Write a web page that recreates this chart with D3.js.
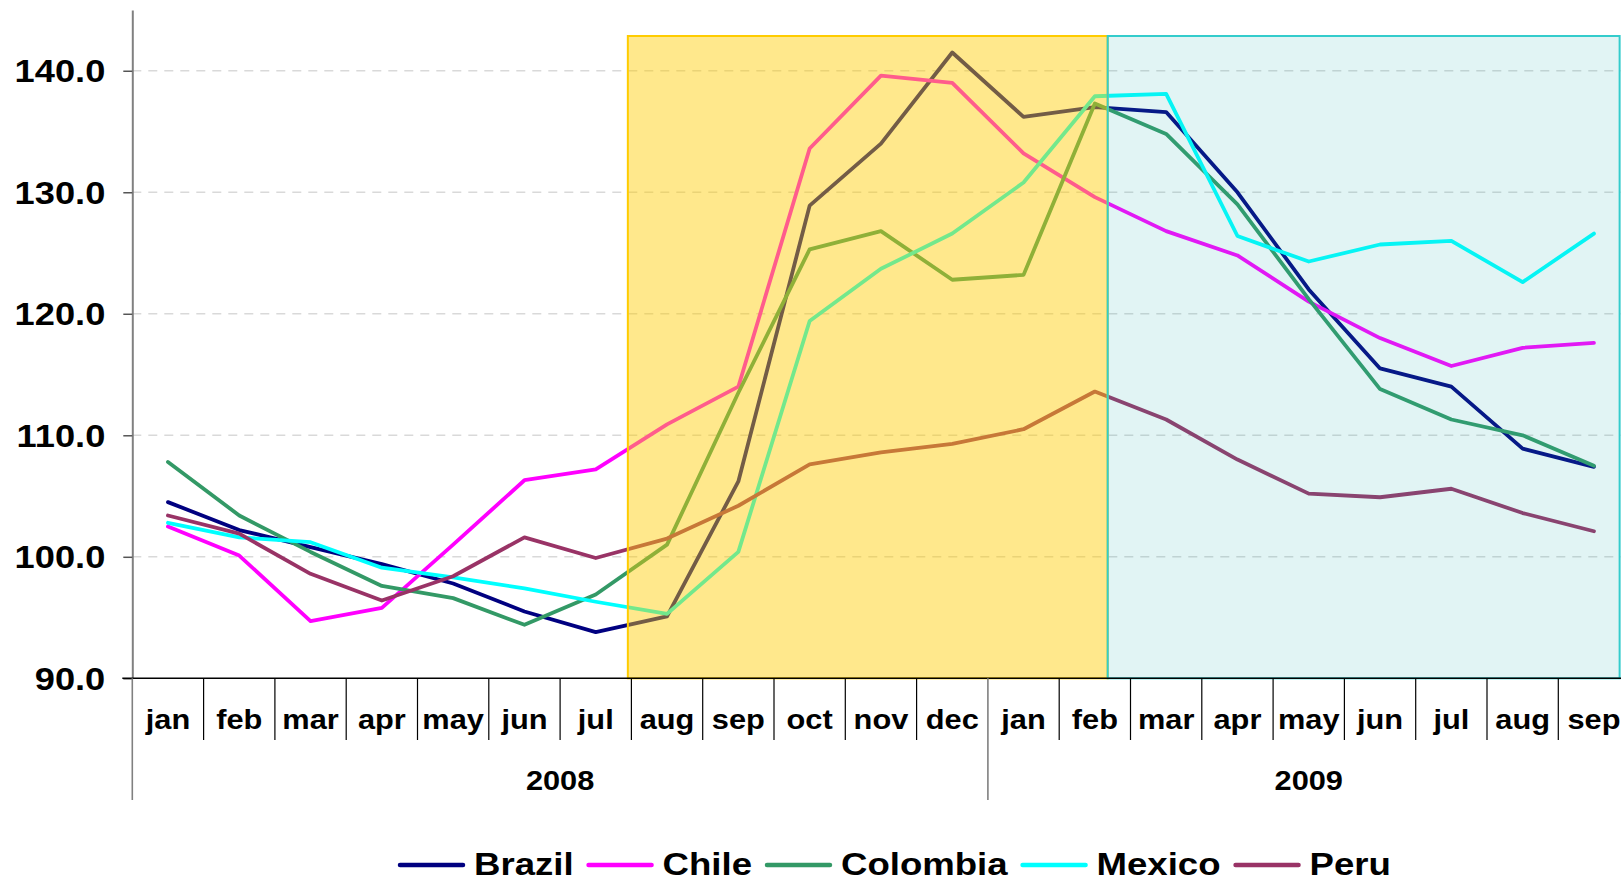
<!DOCTYPE html>
<html>
<head>
<meta charset="utf-8">
<script src="https://cdn.jsdelivr.net/npm/d3@7"></script>
<style>
  html, body { margin: 0; padding: 0; background: #ffffff; }
  svg { display: block; }
  text { font-family: "Liberation Sans", Arial, sans-serif; font-weight: bold; fill: #000; }
</style>
</head>
<body>
<svg id="chart" width="1621" height="882"></svg>
<script>
// ---------- data ----------
const months = ["jan","feb","mar","apr","may","jun","jul","aug","sep","oct","nov","dec",
                "jan","feb","mar","apr","may","jun","jul","aug","sep"];
const years = ["2008", "2009"];
const yearStartIndex = [0, 12];
const yearEndIndex = [12, 21];
const yTicks = [90, 100, 110, 120, 130, 140];
const seriesNames = ["Brazil", "Chile", "Colombia", "Mexico", "Peru"];
const brazil   = [104.5, 102.2, 100.8, 99.4, 97.8, 95.5, 93.8, 95.1, 106.2, 128.9, 134.0, 141.5, 136.2, 137.0, 136.6, 130.0, 122.0, 115.5, 114.0, 108.9, 107.4];
const chile    = [102.5, 100.1, 94.7, 95.8, 101.0, 106.3, 107.2, 110.9, 114.0, 133.6, 139.6, 139.0, 133.2, 129.6, 126.8, 124.8, 121.0, 118.0, 115.7, 117.2, 117.6];
const colombia = [107.8, 103.4, 100.4, 97.6, 96.6, 94.4, 96.9, 101.0, 113.5, 125.3, 126.8, 122.8, 123.2, 137.3, 134.8, 129.0, 121.2, 113.8, 111.3, 110.0, 107.5];
const mexico   = [102.8, 101.6, 101.2, 99.1, 98.3, 97.4, 96.3, 95.3, 100.4, 119.4, 123.7, 126.6, 130.8, 137.9, 138.1, 126.4, 124.3, 125.7, 126.0, 122.6, 126.6];
const peru     = [103.4, 101.9, 98.6, 96.4, 98.4, 101.6, 99.9, 101.5, 104.2, 107.6, 108.6, 109.3, 110.5, 113.6, 111.3, 108.0, 105.2, 104.9, 105.6, 103.6, 102.1];
// shaded periods, in month-index units (fractional)
const periodStart = [6.95, 13.68];
const periodEnd   = [13.68, 20.86];

// ---------- styles ----------
const colors = ["#000080", "#FF00FF", "#339966", "#00FFFF", "#993366"];
const periodFill   = ["#FFCC00", "#28B4B4"];
const periodAlpha  = [0.45, 0.14];
const periodStroke = ["#FFCC00", "#33CCCC"];
const STRETCH = 1.14;
const Y_STRETCH = 1.17;
const LEG_STRETCH = 1.18;

const allSeries = [brazil, chile, colombia, mexico, peru];

const svg = d3.select("#chart");
const plotLeft = 132.3, plotRight = 1629.6, plotTop = 10, plotBottom = 678.3, shadeTop = 36;

const x = d3.scaleLinear().domain([0, months.length]).range([plotLeft, plotRight]);
const y = d3.scaleLinear().domain([90, 145]).range([plotBottom, plotTop]);

// gridlines
svg.append("g").selectAll("line")
  .data(yTicks.filter(d => d > 90))
  .join("line")
  .attr("x1", plotLeft).attr("x2", plotRight)
  .attr("y1", d => y(d)).attr("y2", d => y(d))
  .attr("stroke", "#d9d9d9").attr("stroke-width", 1.5)
  .attr("stroke-dasharray", "9,7");

// lines
const line = d3.line().x((d, i) => x(i + 0.5)).y(d => y(d));
svg.append("g").selectAll("path")
  .data(allSeries)
  .join("path")
  .attr("d", d => line(d))
  .attr("fill", "none")
  .attr("stroke", (d, i) => colors[i])
  .attr("stroke-width", 3.8)
  .attr("stroke-linejoin", "round")
  .attr("stroke-linecap", "round");

// shaded periods overlays
const pg = svg.append("g");
periodStart.forEach((s, i) => {
  pg.append("rect")
    .attr("x", x(s)).attr("y", shadeTop)
    .attr("width", x(periodEnd[i]) - x(s))
    .attr("height", plotBottom - shadeTop)
    .attr("fill", periodFill[i]).attr("fill-opacity", periodAlpha[i]);
});
periodStart.forEach((s, i) => {
  pg.append("rect")
    .attr("x", x(s)).attr("y", shadeTop)
    .attr("width", x(periodEnd[i]) - x(s))
    .attr("height", plotBottom - shadeTop)
    .attr("fill", "none").attr("stroke", periodStroke[i]).attr("stroke-width", 2);
});

// y axis
const yAxis = d3.axisLeft(y).tickValues(yTicks).tickFormat(d3.format(".1f")).tickSize(9).tickSizeOuter(0);
const yg = svg.append("g").attr("transform", `translate(${plotLeft},0)`).call(yAxis);
yg.select(".domain").attr("stroke", "#808080").attr("stroke-width", 2);
yg.selectAll(".tick line").attr("stroke", "#555").attr("stroke-width", 1.5);
yg.selectAll(".tick text")
  .attr("x", null).attr("dy", null)
  .attr("transform", `translate(-27,0) scale(${Y_STRETCH},1)`)
  .attr("dominant-baseline", "central")
  .attr("text-anchor", "end")
  .style("font-size", "31px")
  .style("font-family", "'Liberation Sans', Arial, sans-serif")
  .style("font-weight", "bold")
  .attr("fill", "#000");

// x axis line
svg.append("line").attr("x1", plotLeft - 10).attr("x2", plotRight)
  .attr("y1", plotBottom).attr("y2", plotBottom)
  .attr("stroke", "#000").attr("stroke-width", 1.5);

// month separators
svg.append("g").selectAll("line")
  .data(d3.range(1, months.length + 1).filter(i => !yearStartIndex.includes(i)))
  .join("line")
  .attr("x1", d => x(d)).attr("x2", d => x(d))
  .attr("y1", plotBottom).attr("y2", 740)
  .attr("stroke", "#000").attr("stroke-width", 1.2);

// year separators
svg.append("g").selectAll("line")
  .data(yearStartIndex)
  .join("line")
  .attr("x1", d => x(d)).attr("x2", d => x(d))
  .attr("y1", plotBottom).attr("y2", 800)
  .attr("stroke", "#808080").attr("stroke-width", 1.6);

// month labels
svg.append("g").selectAll("text")
  .data(months)
  .join("text")
  .attr("transform", (d, i) => `translate(${x(i + 0.5)},729) scale(${STRETCH},1)`)
  .attr("text-anchor", "middle")
  .style("font-size", "27px")
  .text(d => d);

// year labels
svg.append("g").selectAll("text")
  .data(years)
  .join("text")
  .attr("transform", (d, i) => `translate(${(x(yearStartIndex[i]) + x(yearEndIndex[i])) / 2},790) scale(${STRETCH},1)`)
  .attr("text-anchor", "middle")
  .style("font-size", "27px")
  .text(d => d);

// legend
const lg = svg.append("g");
let lx = 400;
seriesNames.forEach((name, i) => {
  lg.append("line")
    .attr("x1", lx).attr("x2", lx + 63)
    .attr("y1", 865).attr("y2", 865)
    .attr("stroke", colors[i]).attr("stroke-width", 4.5)
    .attr("stroke-linecap", "round");
  const t = lg.append("text")
    .attr("transform", `translate(${lx + 74},875) scale(${LEG_STRETCH},1)`)
    .style("font-size", "31px")
    .text(name);
  const w = t.node().getComputedTextLength() * LEG_STRETCH;
  lx = lx + 74 + w + 15;
});
</script>
</body>
</html>
